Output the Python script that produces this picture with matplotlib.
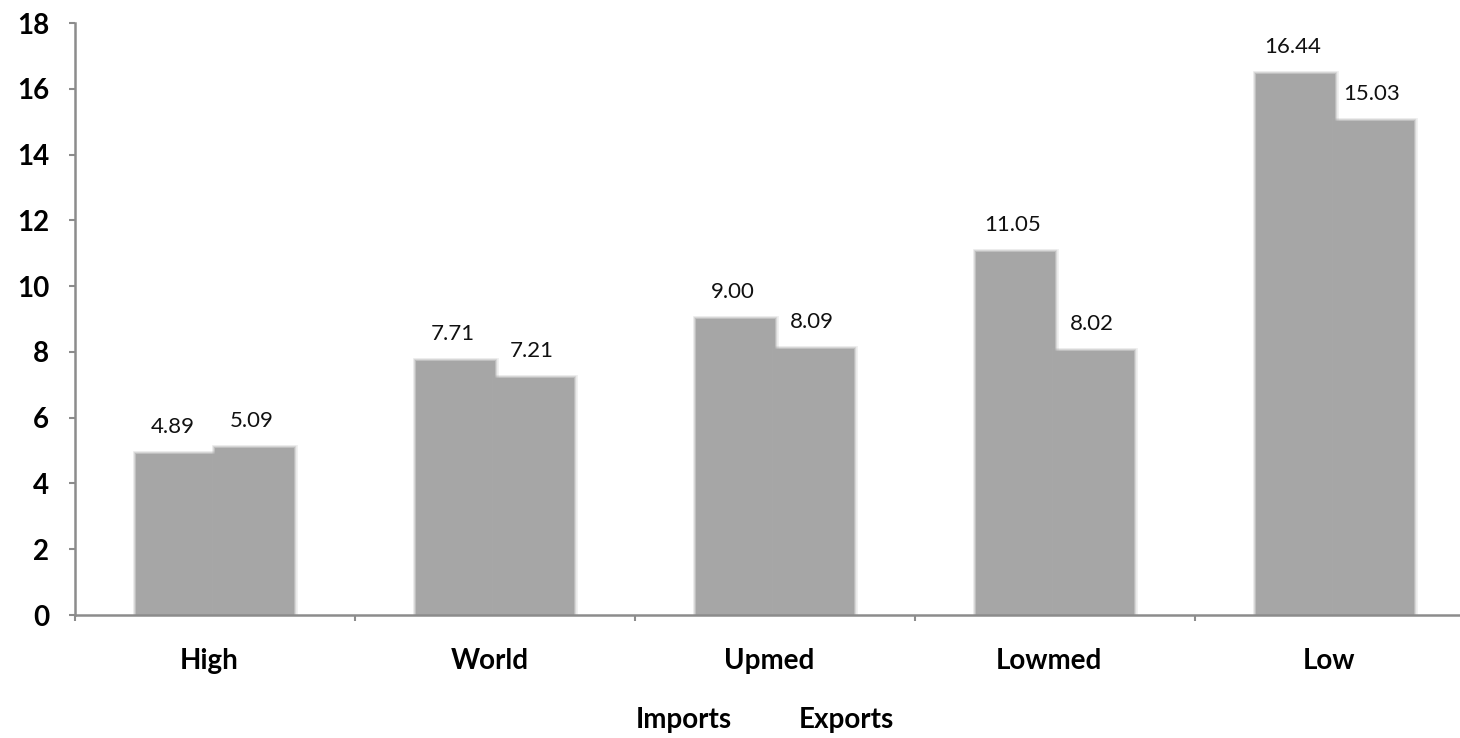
import matplotlib
matplotlib.use("Agg")
import matplotlib.pyplot as plt
import matplotlib.patheffects as pe
import numpy as np

categories = ["High", "World", "Upmed", "Lowmed", "Low"]
imports = [4.89, 7.71, 9.00, 11.05, 16.44]
exports = [5.09, 7.21, 8.09, 8.02, 15.03]
series_names = ["Imports", "Exports"]
yticks = [0, 2, 4, 6, 8, 10, 12, 14, 16, 18]

plt.rcParams['font.family'] = ['Lato', 'DejaVu Sans']

W, H = 1460, 738
fig = plt.figure(figsize=(W / 100, H / 100), dpi=100)
ax = fig.add_axes([75 / W, (H - 615) / H, (1475 - 75) / W, (615 - 23) / H])

bar_color = "#A6A6A6"
axis_color = "#8C8C8C"
x = np.arange(len(categories))
bw = 0.282
soft = [pe.Stroke(linewidth=5, foreground="#B0B0B0", alpha=0.18),
        pe.Stroke(linewidth=3.2, foreground="#A8A8A8", alpha=0.3),
        pe.Stroke(linewidth=1.6, foreground="#A6A6A6", alpha=0.5),
        pe.Normal()]
b1 = ax.bar(x - bw / 2, imports, bw, color=bar_color, linewidth=0, label=series_names[0])
b2 = ax.bar(x + bw / 2, exports, bw, color=bar_color, linewidth=0, label=series_names[1])
for bars in (b1, b2):
    for p in bars:
        p.set_path_effects(soft)

for bars, vals in ((b1, imports), (b2, exports)):
    for p, v in zip(bars, vals):
        ax.annotate(f"{v:.2f}", (p.get_x() + p.get_width() / 2, v),
                    xytext=(-3, 27), textcoords="offset pixels",
                    ha="center", va="center", fontsize=16, color="#111111")

ax.set_xlim(-0.5, len(categories) - 0.5)
ax.set_ylim(0, 18)

ax.set_yticks(yticks)
ax.set_yticklabels([f"{t}" for t in yticks], fontsize=20, fontweight="bold")
ax.tick_params(axis="y", direction="out", length=4.5, width=1.5, color=axis_color, pad=14)

bounds = np.arange(len(categories) + 1) - 0.5
ax.set_xticks(bounds)
ax.set_xticklabels([""] * len(bounds))
ax.tick_params(axis="x", which="major", direction="out", length=4.5, width=1.5, color=axis_color)
ax.set_xticks(x - 0.02, minor=True)
ax.set_xticklabels(categories, minor=True, fontsize=20, fontweight="bold")
ax.tick_params(axis="x", which="minor", length=0, pad=24)

for s in ("top", "right"):
    ax.spines[s].set_visible(False)
for s in ("left", "bottom"):
    ax.spines[s].set_color(axis_color)
    ax.spines[s].set_linewidth(1.8)
ax.set_facecolor("none")

leg = fig.legend(handles=[b1, b2], loc="center", bbox_to_anchor=(765 / W, 1 - 720 / H),
                 ncol=2, frameon=False, handlelength=0, handletextpad=0, columnspacing=2.4,
                 prop={"weight": "bold", "size": 20})
for h in leg.legend_handles:
    h.set_visible(False)

fig.savefig("out.png", dpi=100)
